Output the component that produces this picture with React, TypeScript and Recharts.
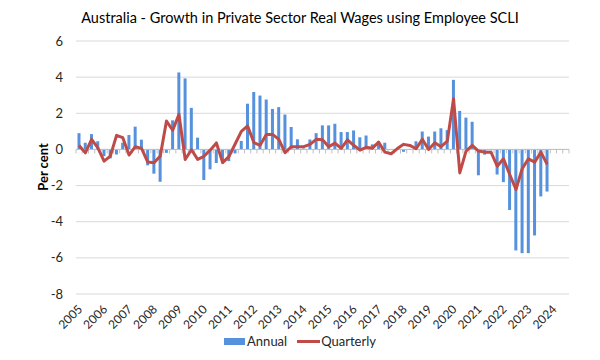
import React from 'react'
import {
  ComposedChart,
  Bar,
  Line,
  XAxis,
  YAxis,
  CartesianGrid,
  ReferenceLine,
  Legend,
} from 'recharts'

// Axis categories: quarters 2005Q1 .. 2024Q3 (labels only on Q1)
const YEARS = [
  '2005', '2006', '2007', '2008', '2009', '2010', '2011', '2012', '2013', '2014',
  '2015', '2016', '2017', '2018', '2019', '2020', '2021', '2022', '2023', '2024',
]
const QUARTERS = ['Q1', 'Q2', 'Q3', 'Q4']
const N_CATEGORIES = 79

// Annual growth (per cent)
const annual = [
  0.9, 0.37, 0.85, 0.45, -0.37, -0.5, -0.28, 0.37, 0.8, 1.26,
  0.54, -0.88, -1.34, -1.79, -0.19, 1.61, 4.26, 3.93, 2.3, 0.65,
  -1.69, -1.1, -0.75, -0.77, -0.65, -0.22, 0.47, 2.53, 3.18, 2.98,
  2.76, 2.24, 2.34, 1.93, 1.24, 0.56, 0.05, 0.55, 0.9, 1.33,
  1.33, 1.42, 0.96, 0.96, 1.05, 0.67, 0.77, 0.28, 0.46, 0.37,
  0.02, 0.03, -0.13, 0.03, 0.45, 0.99, 0.71, 0.99, 1.17, 1.07,
  3.85, 2.13, 1.76, 1.53, -1.43, -0.29, -0.05, -1.39, -1.81, -3.35,
  -5.59, -5.74, -5.74, -4.76, -2.6, -2.33,
]

// Quarterly growth (per cent)
const quarterly = [
  0.22, -0.19, 0.56, 0.09, -0.65, -0.37, 0.78, 0.65, -0.31, 0.15,
  0.06, -0.7, -0.74, -0.37, 1.57, 1.06, 1.94, -0.56, -0.02, -0.55,
  -0.38, -0.04, 0.36, -0.73, -0.4, 0.3, 1.0, 1.3, 0.38, 0.23,
  0.83, 0.83, 0.56, -0.18, 0.15, 0.15, 0.15, 0.28, 0.56, 0.54,
  0.15, 0.35, 0.06, 0.53, 0.23, -0.04, 0.12, 0.07, 0.4, -0.15,
  -0.24, 0.05, 0.28, 0.22, 0.04, 0.56, 0.0, 0.37, 0.15, 0.46,
  2.8, -1.3, -0.09, 0.22, -0.09, -0.15, -0.15, -0.93, -0.52, -1.39,
  -2.22, -1.07, -0.52, -0.7, -0.15, -0.83,
]

const Y_TICKS = [-8, -6, -4, -2, 0, 2, 4, 6]

const BLUE = '#5591dc'
const RED = '#be4b48'
const GRID = '#d9d9d9'
const AXIS = '#bfbfbf'
const TEXT = '#262626'
const FONT = 'Lato, "Noto Sans", sans-serif'

const categories = YEARS.flatMap((y) => QUARTERS.map((q) => y + q)).slice(0, N_CATEGORIES)

const chartData = categories.map((q, i) => ({
  q,
  annual: annual[i] ?? null,
  quarterly: quarterly[i] ?? null,
}))

// rotated year label, text end sits under the category
function YearTick({ x, y, payload }: any) {
  return (
    <g transform={`translate(${x + 1},${y + 5})`}>
      <text
        transform="rotate(-45)"
        textAnchor="end"
        dy="0.35em"
        fontSize={12}
        fontFamily={FONT}
        fill={TEXT}
      >
        {String(payload.value).slice(0, 4)}
      </text>
    </g>
  )
}

// zero line with Excel-style category tick marks
function ZeroAxis(props: any) {
  const { x1, x2, y1 } = props
  const step = (x2 - x1) / N_CATEGORIES
  const marks = []
  for (let k = 0; k <= N_CATEGORIES; k++) {
    const xx = x1 + k * step
    marks.push(<line key={k} x1={xx} x2={xx} y1={y1} y2={y1 + 4} stroke={AXIS} strokeWidth={1} />)
  }
  return (
    <g>
      <line x1={x1} x2={x2} y1={y1} y2={y1} stroke={AXIS} strokeWidth={1} />
      {marks}
    </g>
  )
}

function LegendContent() {
  return (
    <div
      style={{
        width: 600,
        height: 26,
        display: 'flex',
        justifyContent: 'center',
        alignItems: 'flex-start',
        fontFamily: FONT,
        fontSize: 13,
        color: TEXT,
        lineHeight: '14px',
      }}
    >
      <span style={{ display: 'flex', alignItems: 'center' }}>
        <span style={{ display: 'inline-block', width: 21, height: 7, background: BLUE, marginRight: 2 }} />
        Annual
      </span>
      <span style={{ display: 'flex', alignItems: 'center', marginLeft: 10 }}>
        <span style={{ display: 'inline-block', width: 23, height: 3, background: RED, marginRight: 1 }} />
        Quarterly
      </span>
    </div>
  )
}

export default function App() {
  return (
    <div style={{ position: 'absolute', left: 0, top: 0, width: 600, height: 360, background: '#fff' }}>
      <div
        style={{
          position: 'absolute',
          left: 0,
          top: 8,
          width: 600,
          textAlign: 'center',
          fontFamily: FONT,
          fontSize: 14.5,
          color: '#000',
          lineHeight: '20px',
        }}
      >
        Australia - Growth in Private Sector Real Wages using Employee SCLI
      </div>
      <div
        style={{
          position: 'absolute',
          left: 43,
          top: 167,
          transform: 'translate(-50%, -50%) rotate(-90deg)',
          fontFamily: FONT,
          fontSize: 13,
          fontWeight: 700,
          color: '#000',
          whiteSpace: 'nowrap',
        }}
      >
        Per cent
      </div>
      <ComposedChart
        width={600}
        height={360}
        data={chartData}
        margin={{ top: 41, right: 31, bottom: 0, left: 0 }}
        barCategoryGap="24%"
      >
        <CartesianGrid horizontal vertical={false} stroke={GRID} strokeWidth={1} />
        <XAxis
          dataKey="q"
          interval={3}
          tick={<YearTick />}
          axisLine={false}
          tickLine={false}
          height={40}
        />
        <YAxis
          domain={[-8, 6]}
          ticks={Y_TICKS}
          width={76}
          axisLine={false}
          tickLine={false}
          tickMargin={7}
          tick={{ fontSize: 13, fill: TEXT, fontFamily: FONT }}
        />
        <Legend verticalAlign="bottom" content={<LegendContent />} />
        <Bar dataKey="annual" name="Annual" fill={BLUE} isAnimationActive={false} />
        <ReferenceLine y={0} shape={<ZeroAxis />} />
        <Line
          type="linear"
          dataKey="quarterly"
          name="Quarterly"
          stroke={RED}
          strokeWidth={3}
          dot={false}
          strokeLinejoin="round"
          isAnimationActive={false}
        />
      </ComposedChart>
    </div>
  )
}
